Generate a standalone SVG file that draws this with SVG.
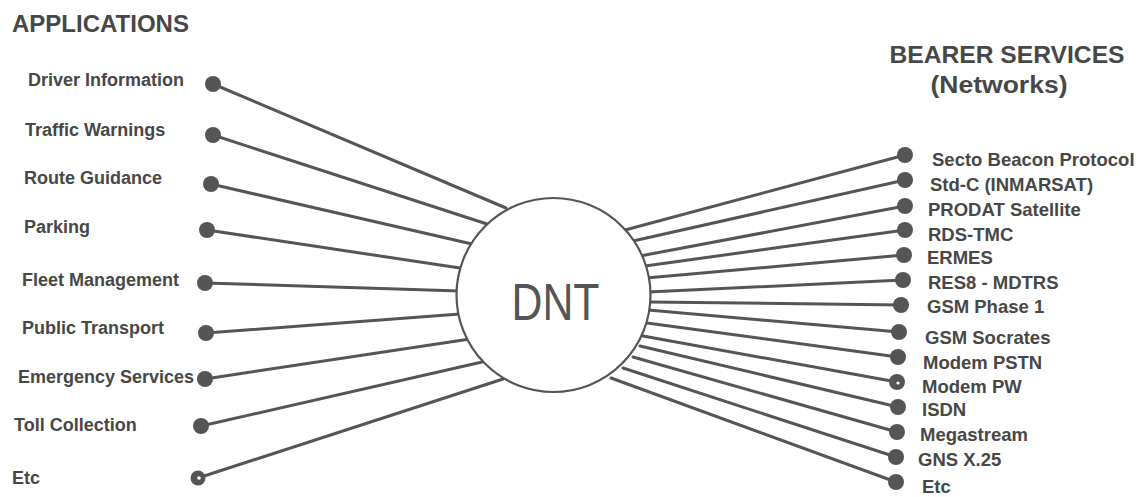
<svg xmlns="http://www.w3.org/2000/svg" width="1144" height="497" viewBox="0 0 1144 497">
<style>
  text { font-family: "Liberation Sans", Arial, sans-serif; fill: #474747; }
  .hdr { font-size: 24px; font-weight: bold; }
  .lbl { font-size: 18px; font-weight: bold; }
  .rlbl { font-size: 18.5px; font-weight: bold; }
  .ln { stroke: #555; stroke-width: 3; fill: none; stroke-linecap: round; }
  .dot { fill: #555; }
  .hub { fill: #fff; stroke: #555; stroke-width: 2.2; }
</style>
<rect width="1144" height="497" fill="#fff"/>

<g id="connectors">
  <line class="ln" x1="213" y1="84" x2="506" y2="208"/>
  <line class="ln" x1="213" y1="135" x2="487" y2="224"/>
  <line class="ln" x1="211" y1="184" x2="472" y2="244"/>
  <line class="ln" x1="207" y1="230" x2="460" y2="268"/>
  <line class="ln" x1="205" y1="283" x2="460" y2="291"/>
  <line class="ln" x1="206" y1="333" x2="460" y2="314"/>
  <line class="ln" x1="205" y1="379" x2="470" y2="339"/>
  <line class="ln" x1="201" y1="426" x2="482" y2="362"/>
  <line class="ln" x1="198" y1="478" x2="503" y2="379"/>

  <line class="ln" x1="905" y1="155" x2="625" y2="230"/>
  <line class="ln" x1="905" y1="180" x2="633" y2="241"/>
  <line class="ln" x1="905" y1="206" x2="640" y2="256"/>
  <line class="ln" x1="905" y1="230" x2="645" y2="266"/>
  <line class="ln" x1="904" y1="255" x2="646" y2="278"/>
  <line class="ln" x1="903" y1="280" x2="648" y2="292"/>
  <line class="ln" x1="901" y1="305" x2="649" y2="302"/>
  <line class="ln" x1="899" y1="332" x2="648" y2="310"/>
  <line class="ln" x1="898" y1="357" x2="647" y2="323"/>
  <line class="ln" x1="897" y1="382" x2="643" y2="336"/>
  <line class="ln" x1="898" y1="407" x2="640" y2="346"/>
  <line class="ln" x1="897" y1="432" x2="633" y2="357"/>
  <line class="ln" x1="896" y1="457" x2="623" y2="368"/>
  <line class="ln" x1="896" y1="482" x2="611" y2="378"/>
</g>

<g id="headers">
  <text class="hdr" x="12" y="32">APPLICATIONS</text>
  <text class="hdr" x="1007" y="63" text-anchor="middle" textLength="235" lengthAdjust="spacingAndGlyphs">BEARER SERVICES</text>
  <text class="hdr" x="999" y="93" text-anchor="middle" textLength="137" lengthAdjust="spacingAndGlyphs">(Networks)</text>
</g>

<g id="hub-dnt">
  <circle class="hub" cx="553.5" cy="295" r="97"/>
  <text x="555.5" y="320" text-anchor="middle" font-size="52" textLength="88" lengthAdjust="spacingAndGlyphs" style="fill:#555">DNT</text>
</g>

<g id="app-driver-information"><circle class="dot" cx="213" cy="84" r="8"/><text class="lbl" x="28" y="86">Driver Information</text></g>
<g id="app-traffic-warnings"><circle class="dot" cx="213" cy="135" r="8"/><text class="lbl" x="25" y="136">Traffic Warnings</text></g>
<g id="app-route-guidance"><circle class="dot" cx="211" cy="184" r="8"/><text class="lbl" x="24" y="184">Route Guidance</text></g>
<g id="app-parking"><circle class="dot" cx="207" cy="230" r="8"/><text class="lbl" x="24" y="233">Parking</text></g>
<g id="app-fleet-management"><circle class="dot" cx="205" cy="283" r="8"/><text class="lbl" x="22" y="286">Fleet Management</text></g>
<g id="app-public-transport"><circle class="dot" cx="206" cy="333" r="8"/><text class="lbl" x="22" y="334">Public Transport</text></g>
<g id="app-emergency-services"><circle class="dot" cx="205" cy="379" r="8"/><text class="lbl" x="18" y="383">Emergency Services</text></g>
<g id="app-toll-collection"><circle class="dot" cx="201" cy="426" r="8"/><text class="lbl" x="14" y="431">Toll Collection</text></g>
<g id="app-etc"><circle class="dot" cx="198" cy="478" r="7.5"/><circle cx="199" cy="478" r="1.8" fill="#fff"/><text class="lbl" x="12" y="484">Etc</text></g>

<g id="net-secto-beacon"><circle class="dot" cx="905" cy="155" r="8"/><text class="rlbl" x="932" y="166">Secto Beacon Protocol</text></g>
<g id="net-std-c"><circle class="dot" cx="905" cy="180" r="8"/><text class="rlbl" x="930" y="191">Std-C (INMARSAT)</text></g>
<g id="net-prodat"><circle class="dot" cx="905" cy="206" r="8"/><text class="rlbl" x="928" y="216">PRODAT Satellite</text></g>
<g id="net-rds-tmc"><circle class="dot" cx="905" cy="230" r="8"/><text class="rlbl" x="928" y="241">RDS-TMC</text></g>
<g id="net-ermes"><circle class="dot" cx="904" cy="255" r="8"/><text class="rlbl" x="927" y="264">ERMES</text></g>
<g id="net-res8"><circle class="dot" cx="903" cy="280" r="8"/><text class="rlbl" x="928" y="289">RES8 - MDTRS</text></g>
<g id="net-gsm-phase1"><circle class="dot" cx="901" cy="305" r="8"/><text class="rlbl" x="927" y="313">GSM Phase 1</text></g>
<g id="net-gsm-socrates"><circle class="dot" cx="899" cy="332" r="8"/><text class="rlbl" x="925" y="344">GSM Socrates</text></g>
<g id="net-modem-pstn"><circle class="dot" cx="898" cy="357" r="8"/><text class="rlbl" x="923" y="369">Modem PSTN</text></g>
<g id="net-modem-pw"><circle class="dot" cx="897" cy="382" r="8"/><circle cx="898" cy="383" r="1.6" fill="#fff"/><text class="rlbl" x="922" y="393">Modem PW</text></g>
<g id="net-isdn"><circle class="dot" cx="898" cy="407" r="8"/><text class="rlbl" x="922" y="416">ISDN</text></g>
<g id="net-megastream"><circle class="dot" cx="897" cy="432" r="8"/><text class="rlbl" x="920" y="441">Megastream</text></g>
<g id="net-gns-x25"><circle class="dot" cx="896" cy="457" r="8"/><text class="rlbl" x="918" y="466">GNS X.25</text></g>
<g id="net-etc"><circle class="dot" cx="896" cy="482" r="8"/><text class="rlbl" x="922" y="493">Etc</text></g>
</svg>
